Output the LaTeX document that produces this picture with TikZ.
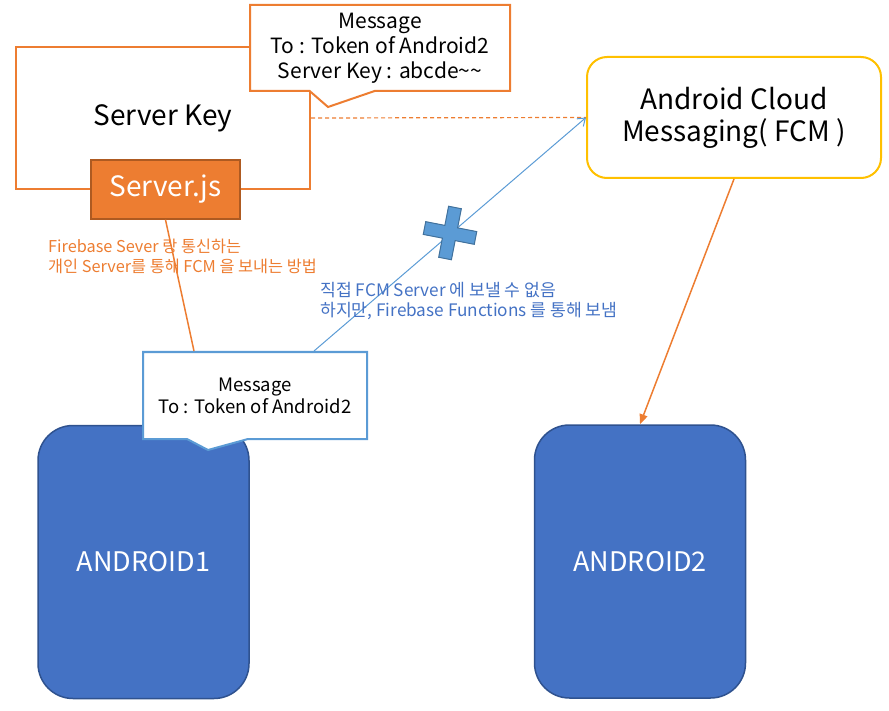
\documentclass[tikz,border=0pt]{standalone}
\usepackage{fontspec}
\setmainfont{Noto Sans CJK KR}
\usetikzlibrary{arrows.meta,positioning,shapes.callouts,calc}

\definecolor{keyorange}{HTML}{ED7D31}
\definecolor{jsborder}{HTML}{AE5A21}
\definecolor{fcmgold}{HTML}{FFC000}
\definecolor{msgblue}{HTML}{5B9BD5}
\definecolor{phoneblue}{HTML}{4472C4}
\definecolor{phoneborder}{HTML}{2F528F}
\definecolor{crossborder}{HTML}{41719C}

\begin{document}
\begin{tikzpicture}[x=1pt, y=-1pt,
    phone/.style={draw=phoneborder, line width=1.5pt, fill=phoneblue, rounded corners=35pt,
        text=white, font=\fontsize{27}{32}\selectfont, minimum width=211pt, minimum height=273pt},
    msgbox/.style={rectangle callout, fill=white, align=center, inner sep=0pt}]
    \useasboundingbox (0,0) rectangle (889,711);

    % Server key box and its file
    \node[draw=keyorange, line width=2pt, minimum width=294pt, minimum height=142pt,
        font=\fontsize{28}{32}\selectfont] (skey) at (163,118) {Server Key};
    \node[draw=jsborder, line width=1.5pt, fill=keyorange, text=white, minimum width=149pt,
        minimum height=59pt, font=\fontsize{28}{32}\selectfont] (sjs) at (165.5,189.5) {Server.js};

    % Cloud messaging box
    \node[draw=fcmgold, line width=2pt, rounded corners=20pt, minimum width=294pt, minimum height=121pt,
        align=center, font=\fontsize{28}{32}\selectfont] (fcm) at (734,117.5) {Android Cloud\\Messaging( FCM )};
    \draw[keyorange, dashed, dash pattern=on 4pt off 3pt, line width=1.2pt] (skey.east) -- (fcm.west);

    % Message sent by the server
    \node[msgbox, draw=keyorange, line width=2pt, minimum width=260pt, minimum height=86pt,
        callout absolute pointer={(328,107)}, callout pointer width=65pt,
        font=\fontsize{21}{25}\selectfont] (msga) at (380,48)
        {Message\\To : Token of Android2\\Server Key : abcde\textasciitilde\textasciitilde};

    % Phones
    \node[phone] (and1) at (143.5,562) {ANDROID1};
    \node[phone] (and2) at (640,561.5) {ANDROID2};

    % Message sent by the phone
    \node[msgbox, draw=msgblue, line width=2pt, minimum width=224pt, minimum height=87pt,
        callout absolute pointer={(208,450)}, callout pointer width=61pt,
        font=\fontsize{18.5}{22}\selectfont] (msgb) at (255,395.5)
        {Message\\To : Token of Android2};

    % Connectors
    \draw[keyorange, line width=1.5pt] (sjs.south) -- ($(msgb.north west)+(52,0)$);
    \draw[msgblue, line width=1pt, -{Straight Barb[length=7pt,width=10pt]}]
        ($(msgb.north west)+(172,0)$) -- (fcm.west);
    \draw[keyorange, line width=1.5pt, -{Triangle[length=10pt,width=8pt]}] (fcm.south) -- (and2.north);

    % Blocked direct route
    \begin{scope}[shift={(450,233)}, rotate=-11]
        \draw[crossborder, fill=msgblue, line width=1pt] (-6.5,-26) -- (6.5,-26) -- (6.5,-6.5) -- (26,-6.5)
            -- (26,6.5) -- (6.5,6.5) -- (6.5,26) -- (-6.5,26) -- (-6.5,6.5) -- (-26,6.5) -- (-26,-6.5)
            -- (-6.5,-6.5) -- cycle;
    \end{scope}

    % Annotations
    \node[anchor=west, align=left, text=keyorange, inner sep=0pt, font=\fontsize{16.3}{19.5}\selectfont]
        (note1) at (48,256.5) {Firebase Sever 랑 통신하는\\개인 Server를 통해 FCM 을 보내는 방법};
    \node[anchor=west, align=left, text=phoneblue, inner sep=0pt, font=\fontsize{17.2}{20.5}\selectfont]
        (note2) at (320,301) {직접 FCM Server 에 보낼 수 없음\\하지만, Firebase Functions 를 통해 보냄};
\end{tikzpicture}
\end{document}
